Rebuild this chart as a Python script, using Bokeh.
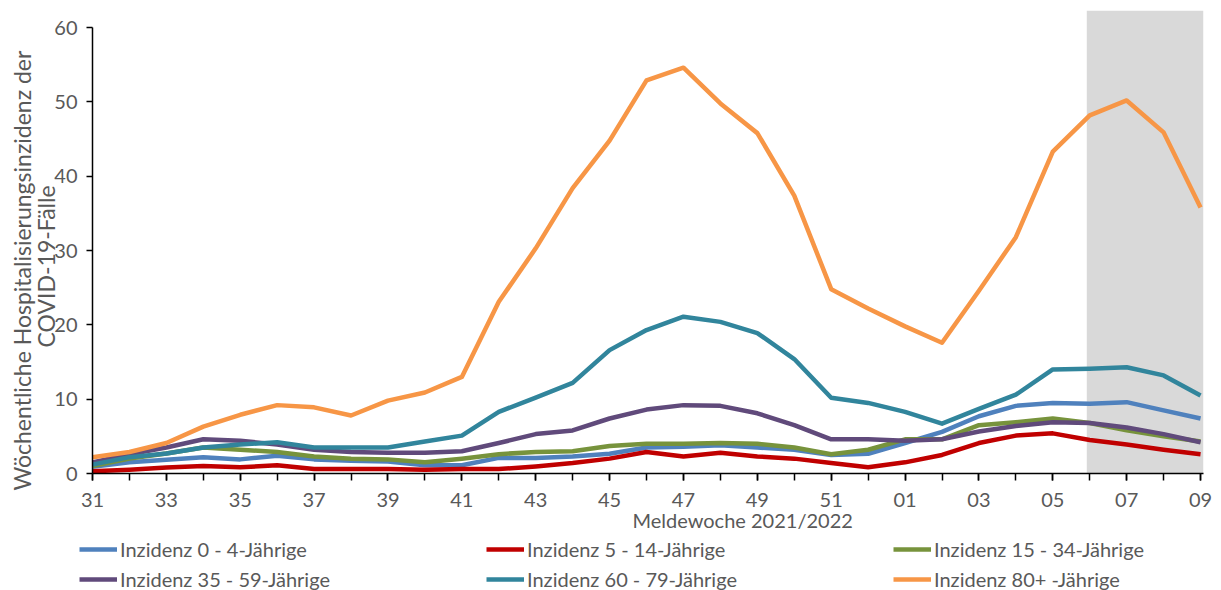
from bokeh.plotting import figure
from bokeh.layouts import column
from bokeh.models import Range1d, FixedTicker, Legend, LegendItem, Title
from bokeh.embed import file_html
from bokeh.resources import INLINE

# Reporting weeks 2021/2022
weeks = ["31", "32", "33", "34", "35", "36", "37", "38", "39", "40", "41",
         "42", "43", "44", "45", "46", "47", "48", "49", "50", "51", "52",
         "01", "02", "03", "04", "05", "06", "07", "08", "09"]
# weeks still subject to late reporting (shaded)
shaded_weeks = ["06", "07", "08", "09"]

inz_0_4 = [0.9, 1.5, 1.85, 2.2, 1.9, 2.4, 1.9, 1.7, 1.6, 1.1, 1.1,
           2.1, 2.1, 2.3, 2.65, 3.5, 3.6, 3.8, 3.5, 3.2, 2.5, 2.65,
           4.1, 5.6, 7.7, 9.1, 9.5, 9.4, 9.6, 8.5, 7.4]
inz_5_14 = [0.3, 0.5, 0.8, 1.0, 0.85, 1.1, 0.6, 0.6, 0.6, 0.5, 0.6,
            0.6, 0.95, 1.4, 2.0, 2.9, 2.3, 2.8, 2.3, 2.0, 1.4, 0.85,
            1.5, 2.5, 4.1, 5.1, 5.4, 4.5, 3.9, 3.2, 2.6]
inz_15_34 = [1.0, 2.0, 2.7, 3.5, 3.2, 2.9, 2.3, 2.0, 1.9, 1.5, 2.0,
             2.6, 2.9, 3.0, 3.7, 4.0, 4.0, 4.1, 4.0, 3.5, 2.6, 3.2,
             4.6, 4.6, 6.5, 6.9, 7.4, 6.8, 5.8, 5.0, 4.3]
inz_35_59 = [1.5, 2.6, 3.5, 4.6, 4.4, 3.9, 3.2, 2.9, 2.8, 2.8, 3.0,
             4.1, 5.3, 5.8, 7.4, 8.6, 9.2, 9.1, 8.1, 6.5, 4.6, 4.6,
             4.4, 4.6, 5.65, 6.4, 6.9, 6.8, 6.2, 5.3, 4.2]
inz_60_79 = [1.2, 2.2, 2.7, 3.5, 3.9, 4.2, 3.5, 3.5, 3.5, 4.3, 5.1,
             8.3, 10.2, 12.2, 16.6, 19.3, 21.1, 20.4, 18.9, 15.4, 10.2, 9.5,
             8.3, 6.7, 8.7, 10.6, 14.0, 14.1, 14.3, 13.2, 10.5]
inz_80p = [2.2, 2.9, 4.1, 6.3, 7.9, 9.2, 8.9, 7.8, 9.8, 10.9, 13.0,
           23.1, 30.3, 38.4, 44.8, 52.9, 54.6, 49.8, 45.8, 37.4, 24.8, 22.2,
           19.8, 17.6, 24.6, 31.8, 43.3, 48.2, 50.2, 45.9, 35.8]

series_names = ["Inzidenz 0 - 4-Jährige", "Inzidenz 5 - 14-Jährige",
                "Inzidenz 15 - 34-Jährige", "Inzidenz 35 - 59-Jährige",
                "Inzidenz 60 - 79-Jährige", "Inzidenz 80+ -Jährige"]
series_values = [inz_0_4, inz_5_14, inz_15_34, inz_35_59, inz_60_79, inz_80p]
series_colors = ["#4F81BD", "#C00000", "#77933C", "#604A7B", "#31859C", "#F79646"]

y_ticks = [0, 10, 20, 30, 40, 50, 60]

FONT = "Lato"
TXT = "#595959"
LINE_W = 4.5

xs = list(range(len(weeks)))
x_end = xs[-1] + 0.08
y_end = 62.3

p = figure(width=1221, height=536, output_backend="svg", toolbar_location=None,
           x_range=Range1d(0, x_end), y_range=Range1d(0, y_end),
           min_border_left=92, min_border_right=18, min_border_top=10,
           min_border_bottom=63)
p.frame_align = False
p.outline_line_color = None
p.xgrid.visible = False
p.ygrid.visible = False

# shaded band for the most recent weeks
shade_left = weeks.index(shaded_weeks[0]) - 0.08
p.quad(left=shade_left, right=x_end, bottom=0, top=y_end,
       fill_color="#D9D9D9", line_color=None)

for vals, col in zip(series_values, series_colors):
    p.line(xs, vals, line_color=col, line_width=LINE_W, line_join="round")

# y axis
ya = p.yaxis[0]
ya.ticker = FixedTicker(ticks=y_ticks, minor_ticks=[])
ya.bounds = (y_ticks[0], y_ticks[-1])
ya.axis_line_color = "black"
ya.axis_line_width = 1.5
ya.major_tick_line_color = "black"
ya.major_tick_line_width = 1.5
ya.major_tick_in = 0
ya.major_tick_out = 6
ya.minor_tick_line_color = None
ya.major_label_text_font = FONT
ya.major_label_text_font_size = "20px"
ya.major_label_text_color = TXT
ya.major_label_standoff = 9

# x axis
xa = p.xaxis[0]
xa.ticker = FixedTicker(ticks=xs[::2], minor_ticks=xs)
xa.major_label_overrides = {i: weeks[i] for i in xs}
xa.axis_line_color = "black"
xa.axis_line_width = 1.5
xa.major_tick_line_color = "black"
xa.major_tick_line_width = 1.5
xa.minor_tick_line_color = "black"
xa.minor_tick_line_width = 1.5
xa.major_tick_in = 0
xa.major_tick_out = 7
xa.minor_tick_in = 0
xa.minor_tick_out = 7
xa.major_label_text_font = FONT
xa.major_label_text_font_size = "20px"
xa.major_label_text_color = TXT
xa.major_label_standoff = 12


def side_title(text, size, offset, standoff):
    return Title(text=text, align="left", offset=offset, standoff=standoff,
                 text_font=FONT, text_font_size=size,
                 text_font_style="normal", text_color=TXT)


p.add_layout(side_title("Meldewoche 2021/2022", "20px", 540, -7), "below")
p.add_layout(side_title("COVID-19-Fälle", "23px", 126, -16), "left")
p.add_layout(side_title("Wöchentliche Hospitalisierungsinzidenz der", "23px", -17, 4), "left")

# legend strip underneath the chart
lg = figure(width=1221, height=54, output_backend="svg", toolbar_location=None,
            x_range=Range1d(0, 1), y_range=Range1d(0, 1),
            x_axis_location=None, y_axis_location=None,
            min_border_left=0, min_border_right=0, min_border_top=0,
            min_border_bottom=0)
lg.frame_align = False
lg.grid.visible = False
lg.outline_line_color = None

items = []
for name, col in zip(series_names, series_colors):
    r = lg.line(x=[0.5], y=[float("nan")], line_color=col, line_width=LINE_W)
    items.append(LegendItem(label=name, renderers=[r]))

legend = Legend(
    items=items, orientation="horizontal", ncols=3, location=(79, -1),
    border_line_color=None, background_fill_alpha=0, padding=0, margin=0,
    glyph_width=38, glyph_height=22, label_standoff=3, label_width=360,
    label_height=22, spacing=6, label_text_font=FONT,
    label_text_font_size="20px", label_text_color=TXT,
)
lg.add_layout(legend, "center")

layout = column(p, lg, spacing=0)
open("out.html", "w").write(file_html(layout, INLINE))
